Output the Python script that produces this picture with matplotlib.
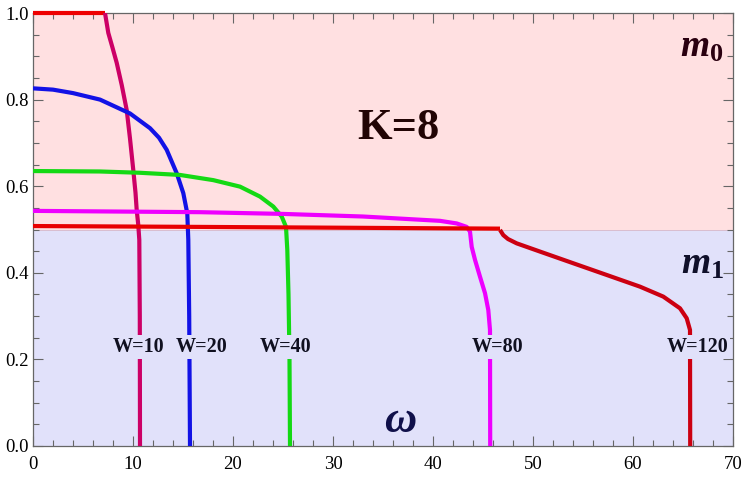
import matplotlib
matplotlib.use("Agg")
import matplotlib.pyplot as plt
from matplotlib.ticker import MultipleLocator

plt.rcParams['mathtext.fontset'] = 'custom'
plt.rcParams['mathtext.it'] = 'Liberation Serif:italic:bold'
plt.rcParams['mathtext.rm'] = 'Liberation Serif:bold'
plt.rcParams['mathtext.bf'] = 'Liberation Serif:bold'

# ---- data ----
w10_flat_x = [0.0, 7.2]
w10_flat_y = [1.0, 1.0]
w10_x = [7.2, 7.53, 7.95, 8.37, 8.87, 9.37, 9.7, 10.03, 10.25, 10.37, 10.53, 10.63, 10.68, 10.7]
w10_y = [1.0, 0.954, 0.92, 0.885, 0.834, 0.776, 0.71, 0.637, 0.585, 0.545, 0.51, 0.476, 0.30, 0.0]

w20_x = [0, 2, 4, 6.7, 9.7, 11.7, 12.6, 13.37, 14.37, 15.03, 15.43, 15.53, 15.62, 15.7]
w20_y = [0.826, 0.823, 0.815, 0.80, 0.768, 0.734, 0.712, 0.684, 0.63, 0.584, 0.537, 0.476, 0.30, 0.0]

w40_x = [0, 6.7, 10.7, 14.7, 18.03, 20.7, 22.7, 24.03, 24.87, 25.3, 25.43, 25.55, 25.65, 25.7]
w40_y = [0.635, 0.634, 0.631, 0.626, 0.614, 0.599, 0.576, 0.553, 0.53, 0.506, 0.453, 0.35, 0.2, 0.0]

w80_x = [0, 16.7, 25, 33, 40.7, 42.37, 43.37, 43.7, 43.87, 44.2, 44.7, 45.2, 45.53, 45.7, 45.72]
w80_y = [0.543, 0.540, 0.536, 0.530, 0.520, 0.514, 0.506, 0.495, 0.46, 0.43, 0.391, 0.353, 0.314, 0.268, 0.0]

w120_flat_x = [0, 16.7, 46.7]
w120_flat_y = [0.508, 0.506, 0.502]
w120_x = [46.7, 47.03, 47.5, 48.37, 50.7, 54.03, 57.37, 60.7, 63.03, 64.7, 65.37, 65.7, 65.72]
w120_y = [0.499, 0.487, 0.478, 0.468, 0.449, 0.422, 0.395, 0.368, 0.345, 0.318, 0.295, 0.268, 0.0]

labels = ["W=10", "W=20", "W=40", "W=80", "W=120"]
label_x = [10.6, 16.85, 25.3, 46.45, 66.45]
label_y = [0.229, 0.229, 0.229, 0.229, 0.229]

xlim = (0, 70)
ylim = (0, 1.0)

# ---- figure ----
fig = plt.figure(figsize=(7.47, 4.80), dpi=100)
ax = fig.add_axes([33/747, 34/480, 700/747, 433/480])
ax.set_xlim(*xlim)
ax.set_ylim(*ylim)

ax.axhspan(0.5, 1.0, color='#FFE0E1', zorder=0, lw=0)
ax.axhspan(0.0, 0.5, color='#E1E1FA', zorder=0, lw=0)
ax.axhline(0.5, color='#D8B8C8', lw=0.6, zorder=0.5)

lw = 3.0
kw = dict(lw=lw, solid_joinstyle='round', solid_capstyle='butt')
ax.plot(w10_flat_x, w10_flat_y, color='#EE0000', clip_on=False, zorder=3, **kw)
ax.plot(w10_x, w10_y, color='#CC0066', zorder=3, **kw)
ax.plot(w20_x, w20_y, color='#1212E6', zorder=3, **kw)
ax.plot(w40_x, w40_y, color='#14D914', zorder=3, **kw)
ax.plot(w80_x, w80_y, color='#EE00FF', zorder=3, **kw)
ax.plot(w120_flat_x, w120_flat_y, color='#E80000', zorder=3.5, **kw)
ax.plot(w120_x, w120_y, color='#CC0011', zorder=3, **kw)

for t, x, y in zip(labels, label_x, label_y):
    ax.text(x, y, t, ha='center', va='center', fontsize=14.5, fontweight='bold',
            family='Liberation Serif', color='#101020', zorder=5,
            bbox=dict(boxstyle='square,pad=0.1', fc='#E1E1FA', ec='none'))

ax.text(36.5, 0.735, "K=8", ha='center', va='center', fontsize=32, fontweight='bold',
        family='Liberation Serif', color='#220404', zorder=5)
ax.text(66.9, 0.899, r'$m_{0}$', ha='center', va='baseline', fontsize=27, color='#2A0010', zorder=5)
ax.text(66.9, 0.397, r'$m_{1}$', ha='center', va='baseline', fontsize=27, color='#10102A', zorder=5)
ax.text(36.77, 0.062, r'$\omega$', ha='center', va='center', fontsize=32, color='#10104A', zorder=5)

ax.xaxis.set_major_locator(MultipleLocator(10))
ax.xaxis.set_minor_locator(MultipleLocator(2))
ax.yaxis.set_major_locator(MultipleLocator(0.2))
ax.yaxis.set_minor_locator(MultipleLocator(0.05))
ax.set_yticks([0.0, 0.2, 0.4, 0.6, 0.8, 1.0])
ax.set_yticklabels(["0.0", "0.2", "0.4", "0.6", "0.8", "1.0"])

for s in ax.spines.values():
    s.set_color('#666666')
    s.set_linewidth(0.9)
ax.tick_params(which='both', direction='in', top=True, right=True, color='#666666', width=0.8)
ax.tick_params(which='major', length=7)
ax.tick_params(which='minor', length=4)
ax.tick_params(axis='both', labelsize=13.5, labelcolor='black')
for lab in ax.get_xticklabels() + ax.get_yticklabels():
    lab.set_family('Liberation Serif')
ax.tick_params(axis='y', pad=3)
ax.tick_params(axis='x', pad=7)

fig.savefig("out.png", dpi=100)
